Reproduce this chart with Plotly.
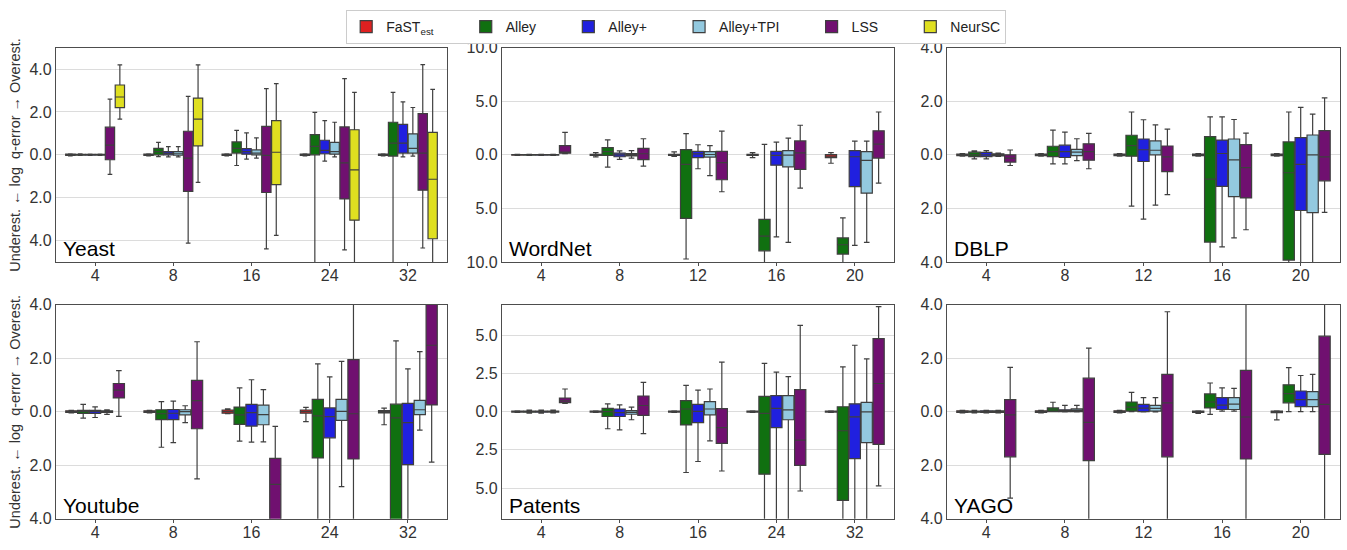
import plotly.graph_objects as go

# ---------------- data: each entry = (lower whisker, q1, median, q3, upper whisker)
METHODS = ["FaST_est", "Alley", "Alley+", "Alley+TPI", "LSS", "NeurSC"]
LEGEND_NAMES = ["FaST<sub>est</sub>", "Alley", "Alley+", "Alley+TPI", "LSS", "NeurSC"]
COLORS = ["#df2020", "#107010", "#2020df", "#93c9df", "#701070", "#dfdf20"]

PANEL_NAMES = ["Yeast", "WordNet", "DBLP", "Youtube", "Patents", "YAGO"]

yeast_x = ["4", "8", "16", "24", "32"]
yeast = {
    "FaST_est": [(-0.05, -0.03, 0, 0.03, 0.05)] * 5,
    "Alley": [(-0.03, -0.02, 0, 0.02, 0.05), (-0.08, 0.0, 0.15, 0.3, 0.58), (-0.5, 0.08, 0.3, 0.6, 1.14),
              (-6, 0.0, 0.39, 0.94, 1.98), (-6, -0.06, 0.55, 1.52, 2.92)],
    "Alley+": [(-0.03, -0.02, 0, 0.02, 0.03), (-0.1, 0.0, 0.07, 0.15, 0.38), (-0.2, 0.03, 0.15, 0.29, 1.02),
               (-0.29, 0.05, 0.21, 0.68, 1.6), (-0.1, 0.08, 0.55, 1.42, 2.47)],
    "Alley+TPI": [(-0.03, -0.02, 0, 0.02, 0.03), (-0.1, -0.02, 0.05, 0.15, 0.38), (-0.15, 0.0, 0.08, 0.23, 0.79),
                  (-0.1, 0.03, 0.15, 0.58, 1.52), (-0.06, 0.08, 0.3, 0.98, 2.21)],
    "LSS": [(-0.91, -0.23, 0.45, 1.29, 2.6), (-4.12, -1.71, -0.15, 1.1, 2.73), (-4.39, -1.76, -0.03, 1.33, 3.09),
            (-4.44, -2.06, -0.38, 1.3, 3.56), (-4.35, -1.65, 0.08, 1.92, 4.21)],
    "NeurSC": [(1.67, 2.2, 2.7, 3.26, 4.2), (-1.29, 0.42, 1.67, 2.65, 4.2), (-3.76, -1.39, 0.12, 1.6, 3.32),
               (-6, -3.05, -0.7, 1.17, 2.92), (-6, -3.92, -1.14, 1.05, 3.06)],
}

wordnet_x = ["4", "8", "12", "16", "20"]
wordnet = {
    "FaST_est": [(-0.05, -0.03, 0, 0.03, 0.05), (-0.2, -0.05, 0, 0.05, 0.2), (-0.15, -0.05, 0, 0.05, 0.27),
                 (-0.27, -0.05, 0, 0.05, 0.2), (-0.79, -0.27, -0.12, 0.03, 0.2)],
    "Alley": [(-0.05, -0.03, 0, 0.03, 0.05), (-1.15, -0.06, 0.3, 0.67, 1.4), (-9.73, -5.94, -0.9, 0.48, 1.97),
              (-12, -8.97, -7.6, -6.03, 0.97), (-12, -9.27, -8.4, -7.76, -5.88)],
    "Alley+": [(-0.05, -0.03, 0, 0.03, 0.05), (-0.42, -0.18, 0, 0.15, 0.36), (-1.3, -0.27, 0.09, 0.33, 0.94),
               (-7.67, -0.97, -0.06, 0.33, 1.18), (-8.45, -2.97, -0.18, 0.39, 1.27)],
    "Alley+TPI": [(-0.05, -0.03, 0, 0.03, 0.05), (-0.3, -0.1, 0, 0.12, 0.39), (-1.94, -0.21, 0.03, 0.3, 0.85),
                  (-8.18, -1.12, -0.03, 0.39, 1.55), (-8.18, -3.58, -0.52, 0.3, 1.27)],
    "LSS": [(0.12, 0.15, 0.2, 0.85, 2.1), (-1.06, -0.45, 0.1, 0.6, 1.5), (-3.45, -2.33, -0.73, 0.33, 2.21),
            (-3.12, -1.36, 0.18, 1.3, 2.76), (-2.64, -0.3, 1.0, 2.24, 4.0)],
}

dblp_x = ["4", "8", "12", "16", "20"]
dblp = {
    "FaST_est": [(-0.05, -0.03, 0, 0.03, 0.05)] * 5,
    "Alley": [(-0.15, -0.07, 0, 0.1, 0.15), (-0.34, -0.07, 0.12, 0.32, 0.92), (-1.92, -0.05, 0.34, 0.73, 1.6),
              (-5, -3.26, -0.91, 0.68, 1.42), (-5, -3.93, -0.67, 0.48, 1.6)],
    "Alley+": [(-0.15, -0.07, 0, 0.09, 0.16), (-0.34, -0.1, 0.12, 0.36, 0.85), (-2.4, -0.25, 0.19, 0.59, 1.31),
               (-3.44, -1.18, 0.05, 0.55, 1.42), (-5, -2.08, -0.36, 0.64, 1.77)],
    "Alley+TPI": [(-0.06, -0.04, 0, 0.04, 0.06), (-0.22, -0.03, 0.1, 0.2, 0.6), (-1.88, 0.0, 0.17, 0.52, 1.12),
                  (-3.1, -1.56, -0.19, 0.59, 1.32), (-5, -2.16, 0.0, 0.74, 1.52)],
    "LSS": [(-0.4, -0.27, -0.12, 0.0, 0.18), (-0.52, -0.2, 0.12, 0.41, 0.8), (-1.49, -0.63, -0.08, 0.33, 0.96),
            (-2.8, -1.61, -0.48, 0.38, 0.81), (-2.15, -0.97, -0.08, 0.9, 2.13)],
}

youtube_x = ["4", "8", "16", "24", "32"]
youtube = {
    "FaST_est": [(-0.05, -0.03, 0, 0.03, 0.05), (-0.05, -0.03, 0, 0.03, 0.05), (-0.08, -0.06, 0, 0.06, 0.1),
                 (-0.37, -0.06, 0, 0.06, 0.16), (-0.49, -0.05, 0, 0.04, 0.13)],
    "Alley": [(-0.24, -0.07, 0, 0.05, 0.27), (-1.33, -0.3, -0.08, 0.07, 0.37), (-1.1, -0.48, -0.12, 0.17, 0.89),
              (-5, -1.73, -0.16, 0.46, 1.78), (-5, -4.6, -0.23, 0.28, 2.64)],
    "Alley+": [(-0.22, -0.07, 0, 0.05, 0.18), (-1.16, -0.3, -0.06, 0.08, 0.39), (-1.14, -0.54, -0.04, 0.27, 1.19),
               (-5, -0.98, -0.19, 0.14, 1.3), (-5, -1.98, -0.41, 0.31, 1.6)],
    "Alley+TPI": [(-0.1, -0.03, 0, 0.03, 0.07), (-0.41, -0.12, 0, 0.07, 0.22), (-1.13, -0.49, -0.11, 0.24, 0.82),
                  (-2.8, -0.33, 0.01, 0.46, 1.88), (-0.69, -0.11, 0.07, 0.42, 2.24)],
    "LSS": [(-0.18, 0.51, 0.8, 1.05, 1.53), (-2.51, -0.64, 0.41, 1.17, 2.61), (-6, -4.6, -2.72, -1.75, -0.55),
            (-5, -1.77, -0.08, 1.94, 5), (-1.89, 0.25, 2.48, 4.6, 6)],
}

patents_x = ["4", "8", "16", "24", "32"]
patents = {
    "FaST_est": [(-0.05, -0.03, 0, 0.03, 0.05)] * 5,
    "Alley": [(-0.1, -0.04, 0, 0.04, 0.1), (-1.12, -0.32, 0, 0.21, 0.51), (-3.98, -0.87, 0.17, 0.72, 1.72),
              (-8, -4.09, -0.11, 1.0, 3.16), (-8, -5.8, -1.25, 0.32, 2.92)],
    "Alley+": [(-0.1, -0.04, 0, 0.04, 0.1), (-1.19, -0.32, -0.06, 0.17, 0.44), (-3.26, -0.72, 0.02, 0.47, 1.4),
               (-8, -1.04, 0.21, 1.04, 2.58), (-8, -3.07, -0.34, 0.51, 4.34)],
    "Alley+TPI": [(-0.08, -0.03, 0, 0.03, 0.1), (-0.53, -0.17, -0.05, 0.06, 0.3), (-1.91, -0.21, 0.17, 0.66, 1.48),
                  (-8, -0.53, 0.11, 1.04, 2.29), (-8, -2.03, -0.02, 0.61, 3.45)],
    "LSS": [(0.53, 0.59, 0.7, 0.89, 1.48), (-1.44, -0.25, 0.4, 1.02, 1.91), (-3.88, -2.08, -1.04, 0.19, 3.24),
            (-5.19, -3.52, -1.86, 1.44, 5.64), (-4.85, -2.14, 1.84, 4.77, 6.86)],
}

yago_x = ["4", "8", "12", "16", "20"]
yago = {
    "FaST_est": [(-0.05, -0.03, 0, 0.03, 0.05), (-0.05, -0.03, 0, 0.03, 0.05), (-0.05, -0.03, 0, 0.03, 0.05),
                 (-0.07, -0.03, 0, 0.02, 0.03), (-0.31, -0.04, 0, 0.02, 0.03)],
    "Alley": [(-0.05, -0.02, 0, 0.02, 0.05), (0.0, 0.0, 0.06, 0.14, 0.35), (0.0, 0.02, 0.17, 0.36, 0.72),
              (-0.1, 0.14, 0.36, 0.66, 1.07), (0.0, 0.33, 0.67, 1.0, 1.64)],
    "Alley+": [(-0.05, -0.03, 0, 0.03, 0.05), (-0.01, 0.0, 0.04, 0.07, 0.23), (-0.01, 0.0, 0.13, 0.27, 0.52),
               (0.02, 0.08, 0.24, 0.52, 0.89), (0.0, 0.19, 0.45, 0.77, 1.35)],
    "Alley+TPI": [(-0.05, -0.03, 0, 0.03, 0.05), (-0.01, 0.0, 0.05, 0.1, 0.23), (-0.01, 0.02, 0.12, 0.23, 0.52),
                  (0.02, 0.08, 0.28, 0.52, 0.87), (0.0, 0.19, 0.45, 0.75, 1.39)],
    "LSS": [(-3.23, -1.69, -0.12, 0.45, 1.65), (-5, -1.83, -0.4, 1.25, 2.37), (-5, -1.69, 0.33, 1.39, 3.73),
            (-5, -1.77, -0.2, 1.54, 5), (-5, -1.6, 0.27, 2.82, 5)],
}

PANEL_X = [yeast_x, wordnet_x, dblp_x, youtube_x, patents_x, yago_x]
PANEL_DATA = [yeast, wordnet, dblp, youtube, patents, yago]

# y-axis ranges and ticks (labels are absolute values)
Y_RANGES = [(-5, 5), (-10, 10), (-4, 4), (-4, 4), (-7, 7), (-4, 4)]
Y_TICKS = [
    [-4, -2, 0, 2, 4],
    [-10, -5, 0, 5, 10],
    [-4, -2, 0, 2, 4],
    [-4, -2, 0, 2, 4],
    [-5, -2.5, 0, 2.5, 5],
    [-4, -2, 0, 2, 4],
]

Y_TITLE = "Underest. ← log  q-error → Overest."

# ---------------- layout geometry (pixels)
W, H = 1347, 550
COL_PX = [(56, 447), (502, 894), (947, 1340)]
ROW_PX = [(41, 262), (306, 527)]

FONT = "Liberation Sans, Arial, sans-serif"
TICK_COLOR = "#333333"
LINE_COLOR = "#3f3f3f"
PAD = "\u00a0" * 7

fig = go.Figure()
layout = {}
annotations = []

for i, (name, xcats, data) in enumerate(zip(PANEL_NAMES, PANEL_X, PANEL_DATA)):
    r, c = divmod(i, 3)
    sfx = "" if i == 0 else str(i + 1)
    xa, ya = "x" + sfx, "y" + sfx
    for m_idx, method in enumerate(METHODS):
        if method not in data:
            continue
        stats = data[method]
        label = LEGEND_NAMES[m_idx] + (PAD if m_idx < len(METHODS) - 1 else "")
        fig.add_trace(go.Box(
            x=xcats,
            lowerfence=[s[0] for s in stats],
            q1=[s[1] for s in stats],
            median=[s[2] for s in stats],
            q3=[s[3] for s in stats],
            upperfence=[s[4] for s in stats],
            name=label,
            legendgroup=method,
            showlegend=(i == 0),
            alignmentgroup=f"panel{i}",
            offsetgroup=method,
            fillcolor=COLORS[m_idx],
            line=dict(color=LINE_COLOR, width=1.2),
            whiskerwidth=0.5,
            boxpoints=False,
            hoverinfo="skip",
            xaxis=xa, yaxis=ya,
        ))
    x0, x1 = COL_PX[c]
    y0, y1 = ROW_PX[r]
    layout["xaxis" + sfx] = dict(
        domain=[x0 / W, x1 / W], anchor=ya, type="category",
        showline=True, mirror=True, linecolor="#4d4d4d", linewidth=1.3,
        showgrid=False, zeroline=False,
        ticks="outside", ticklen=3, tickcolor="#4d4d4d",
        ticklabelstandoff=-4,
        tickfont=dict(family=FONT, size=16, color=TICK_COLOR),
    )
    ticks = Y_TICKS[i]
    layout["yaxis" + sfx] = dict(
        domain=[1 - y1 / H, 1 - y0 / H], anchor=xa,
        range=list(Y_RANGES[i]),
        tickvals=ticks, ticktext=[f"{abs(t):.1f}" for t in ticks],
        showline=True, mirror=True, linecolor="#4d4d4d", linewidth=1.3,
        showgrid=True, gridcolor="#dcdcdc", gridwidth=1, zeroline=False,
        ticks="", tickfont=dict(family=FONT, size=16, color=TICK_COLOR),
    )
    annotations.append(dict(
        text=name, xref=xa + " domain", yref=ya + " domain", x=0.012, y=0.0,
        xanchor="left", yanchor="bottom", showarrow=False,
        font=dict(family=FONT, size=21, color="black"),
    ))

for r in range(2):
    y0, y1 = ROW_PX[r]
    annotations.append(dict(
        text=Y_TITLE, xref="paper", yref="paper", x=15 / W, y=1 - (y0 + y1) / 2 / H,
        xanchor="center", yanchor="middle", textangle=-90, showarrow=False,
        font=dict(family=FONT, size=14.5, color=TICK_COLOR),
    ))

fig.update_layout(
    **layout,
    annotations=annotations,
    width=W, height=H,
    margin=dict(l=0, r=0, t=0, b=0),
    paper_bgcolor="white", plot_bgcolor="white",
    boxmode="group", boxgap=0.24, boxgroupgap=0.06,
    font=dict(family=FONT, size=14, color=TICK_COLOR),
    legend=dict(
        orientation="h", x=0.502, y=1 - 2 / H, xanchor="center", yanchor="top",
        bordercolor="#cccccc", borderwidth=1, bgcolor="white",
        font=dict(family=FONT, size=14, color="#222222"),
    ),
)

fig.write_html("out.html", post_script="document.body.style.margin='0';",
               config={"displayModeBar": False})
